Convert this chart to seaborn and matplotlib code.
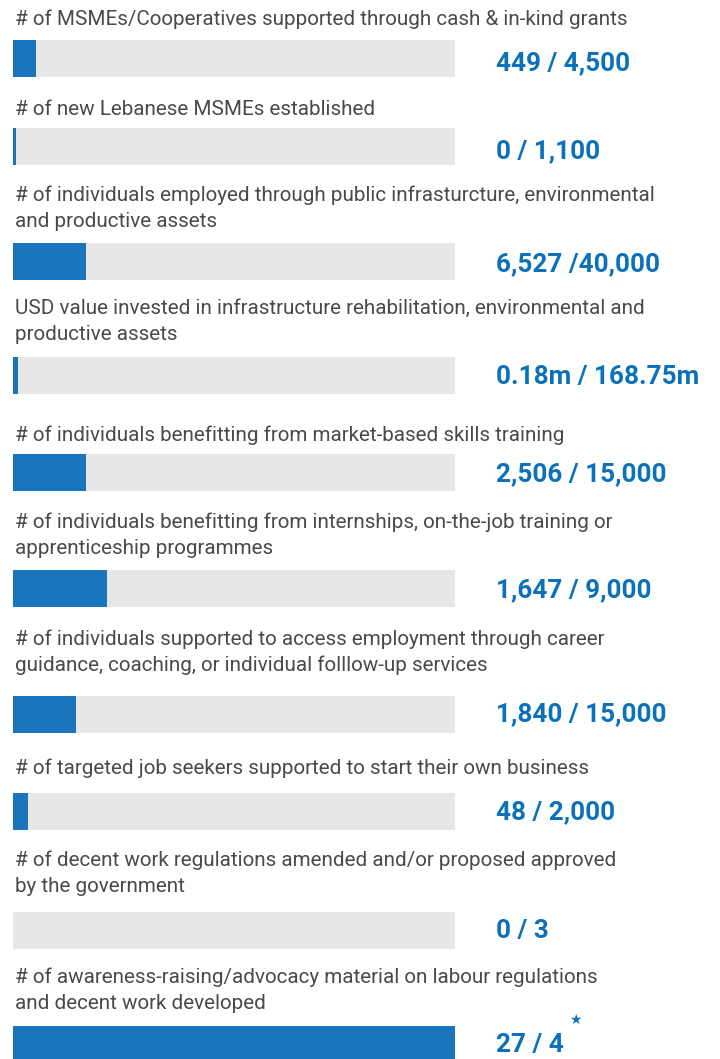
import matplotlib
matplotlib.use("Agg")
import matplotlib.pyplot as plt
import seaborn as sns

# indicator texts, progress values and target labels
labels = [
    "# of MSMEs/Cooperatives supported through cash & in-kind grants",
    "# of new Lebanese MSMEs established",
    "# of individuals employed through public infrasturcture, environmental\nand productive assets",
    "USD value invested in infrastructure rehabilitation, environmental and\nproductive assets",
    "# of individuals benefitting from market-based skills training",
    "# of individuals benefitting from internships, on-the-job training or\napprenticeship programmes",
    "# of individuals supported to access employment through career\nguidance, coaching, or individual folllow-up services",
    "# of targeted job seekers supported to start their own business",
    "# of decent work regulations amended and/or proposed approved\nby the government",
    "# of awareness-raising/advocacy material on labour regulations\nand decent work developed",
]
value_labels = [
    "449 / 4,500", "0 / 1,100", "6,527 /40,000", "0.18m / 168.75m",
    "2,506 / 15,000", "1,647 / 9,000", "1,840 / 15,000", "48 / 2,000",
    "0 / 3", "27 / 4",
]
# progress as drawn (% of track)
progress = [5.2, 0.7, 16.6, 1.1, 16.6, 21.3, 14.3, 3.4, 0, 100]

# layout (pixels from top)
W, H = 720, 1059
bar_top = [40, 128, 243, 357, 454, 570, 696, 793, 912, 1026]
label_base = [25, 115, 201, 314, 441, 528, 645, 774, 866, 983]
value_base = [70, 158, 271, 384, 481, 597, 721, 819, 938, 1052]
bar_h = 37
track_x, track_w = 13, 442

TRACK = "#e6e7e8"
FILL = "#1b75bc"
VALUE = "#0d71ba"
TEXT = "#4a4a4a"

sns.set_theme(style="white")
plt.rcParams["font.family"] = ["Roboto", "DejaVu Sans"]

fig = plt.figure(figsize=(W / 100, H / 100), dpi=100)

for i in range(len(labels)):
    ax = fig.add_axes([track_x / W, 1 - (bar_top[i] + bar_h) / H, track_w / W, bar_h / H])
    sns.barplot(x=[100], y=[0], orient="h", color=TRACK, saturation=1, width=1, ax=ax)
    if progress[i] > 0:
        sns.barplot(x=[progress[i]], y=[0], orient="h", color=FILL, saturation=1, width=1, ax=ax)
    for p in ax.patches:
        p.set_edgecolor("none")
    ax.set_xlim(0, 100)
    ax.set_ylim(0.5, -0.5)
    ax.axis("off")

    for k, line in enumerate(labels[i].split("\n")):
        fig.text(15 / W, 1 - (label_base[i] + 26 * k) / H, line,
                 fontsize=14.9, color=TEXT, va="baseline", ha="left")
    fig.text(496 / W, 1 - value_base[i] / H, value_labels[i],
             fontsize=18.8, fontweight="bold", color=VALUE, va="baseline", ha="left")

fig.text(575 / W, 1 - 1020 / H, "★", family="DejaVu Sans", fontsize=10,
         color=VALUE, ha="center", va="center")

fig.savefig("out.png", dpi=100)
